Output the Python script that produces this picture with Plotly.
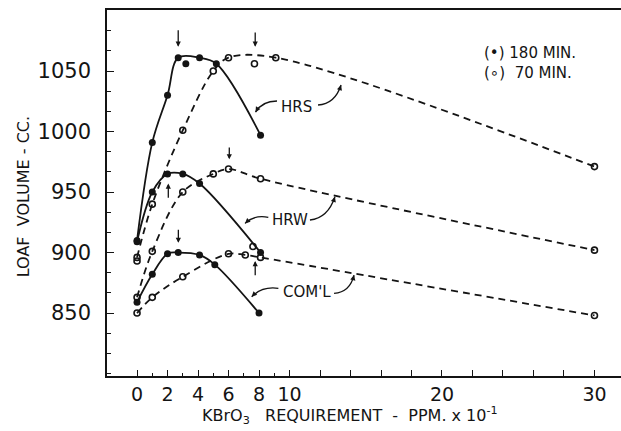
import plotly.graph_objects as go

# ---------------- data ----------------
hrs180_x = [0, 1, 2, 2.7, 4.1, 5.2, 8.1]
hrs180_y = [910, 991, 1030, 1061, 1061, 1056, 997]
hrs70_x = [0, 1, 3, 5, 6, 9.1, 30]
hrs70_y = [896, 940, 1001, 1050, 1061, 1061, 971]

hrw180_x = [0, 1, 2, 3, 4.1, 8.1]
hrw180_y = [909, 950, 965, 965, 957, 900]
hrw70_x = [0, 1, 3, 5, 6, 8.1, 30]
hrw70_y = [863, 901, 950, 965, 969, 961, 902]

coml180_x = [0, 1, 2, 2.7, 4.1, 5.1, 8]
coml180_y = [859, 882, 899, 900, 898, 890, 850]
coml70_x = [0, 1, 3, 6, 7.1, 8.1, 30]
coml70_y = [850, 863, 880, 899, 898, 896, 848]

# points plotted but lying off the drawn curves
extra180_x = [3.2]
extra180_y = [1056]
extra70_x = [0, 7.7, 7.6]
extra70_y = [893, 1056, 905]

# optimum arrows: x, head y, tail y
opt_x = [2.7, 7.75, 2.05, 6.05, 2.71, 7.75]
opt_head = [1070, 1070, 957, 977, 908, 893]
opt_tail = [1085, 1083, 944, 988, 920, 880]

# curve labels: text, x, y, (left arrow start, control, end), (right arrow start, control, end)
labels = ["HRS", "HRW", "COM'L"]
label_x = [10.47, 10.03, 11.13]
label_y = [1020.5, 926.9, 867.6]
left_curves = [
    ((9.18, 1025.2), (8.2, 1025.2), (7.77, 1016)),
    ((8.61, 929.1), (7.74, 931.6), (7.08, 924.1)),
    ((9.27, 870.4), (8.2, 872.3), (7.52, 863.5)),
]
right_curves = [
    ((11.87, 1021.9), (12.98, 1022.7), (13.38, 1038.4)),
    ((11.34, 926.9), (12.52, 928.5), (12.98, 946.1)),
    ((12.92, 866.3), (13.97, 867.4), (14.23, 881.4)),
]

x_major = list(range(0, 31, 2))
x_labels = {0: "0", 2: "2", 4: "4", 6: "6", 8: "8", 10: "10", 20: "20", 30: "30"}
x_minor = [1, 3, 5, 7, 9]
y_major = [850, 900, 950, 1000, 1050]

INK = "#141414"
FONT = "DejaVu Sans"

fig = go.Figure()

solid = dict(color=INK, width=1.8, shape="spline", smoothing=1.0)
dashed = dict(color=INK, width=1.8, shape="spline", smoothing=1.0, dash="7px,5px")
filled = dict(symbol="circle", size=7, color=INK)
opened = dict(symbol="circle-open", size=6, color=INK, line=dict(width=1.6, color=INK))

for xs, ys in [(hrs70_x, hrs70_y), (hrw70_x, hrw70_y), (coml70_x, coml70_y)]:
    fig.add_trace(go.Scatter(x=xs, y=ys, mode="lines+markers", line=dashed,
                             marker=opened, showlegend=False, hoverinfo="skip"))
for xs, ys in [(hrs180_x, hrs180_y), (hrw180_x, hrw180_y), (coml180_x, coml180_y)]:
    fig.add_trace(go.Scatter(x=xs, y=ys, mode="lines+markers", line=solid,
                             marker=filled, showlegend=False, hoverinfo="skip"))
fig.add_trace(go.Scatter(x=extra70_x, y=extra70_y, mode="markers", marker=opened,
                         showlegend=False, hoverinfo="skip"))
fig.add_trace(go.Scatter(x=extra180_x, y=extra180_y, mode="markers", marker=filled,
                         showlegend=False, hoverinfo="skip"))

annotations = []
# optimum arrows
for x, h, t in zip(opt_x, opt_head, opt_tail):
    annotations.append(dict(x=x, y=h, ax=x, ay=t, xref="x", yref="y", axref="x", ayref="y",
                            text="", showarrow=True, arrowhead=2, arrowsize=0.8,
                            arrowwidth=1.3, arrowcolor=INK))

shapes = []
for (lbl, lx, ly, lc, rc) in zip(labels, label_x, label_y, left_curves, right_curves):
    annotations.append(dict(x=lx, y=ly, xref="x", yref="y", text=lbl, showarrow=False,
                            font=dict(family=FONT, size=15, color=INK)))
    for (s, c, e) in (lc, rc):
        shapes.append(dict(type="path", xref="x", yref="y",
                           path=f"M {s[0]},{s[1]} Q {c[0]},{c[1]} {e[0]},{e[1]}",
                           line=dict(color=INK, width=1.3)))
        tx = e[0] + 0.25 * (c[0] - e[0])
        ty = e[1] + 0.25 * (c[1] - e[1])
        annotations.append(dict(x=e[0], y=e[1], ax=tx, ay=ty, xref="x", yref="y",
                                axref="x", ayref="y", text="", showarrow=True,
                                arrowhead=2, arrowsize=0.8, arrowwidth=1.3, arrowcolor=INK))

# legend text
annotations.append(dict(x=0.7296, y=0.882, xref="paper", yref="paper", xanchor="left",
                        yanchor="middle", text="(•) 180 MIN.", showarrow=False,
                        font=dict(family=FONT, size=15, color=INK)))
annotations.append(dict(x=0.7296, y=0.828, xref="paper", yref="paper", xanchor="left",
                        yanchor="middle", text="(∘)  70 MIN.", showarrow=False,
                        font=dict(family=FONT, size=15, color=INK)))
# axis titles
annotations.append(dict(x=0.4727, y=-0.107, xref="paper", yref="paper", xanchor="center",
                        yanchor="middle", showarrow=False,
                        text="KBrO<sub>3</sub>   REQUIREMENT  -  PPM. x 10<sup>-1</sup>",
                        font=dict(family=FONT, size=16, color=INK)))
annotations.append(dict(x=-0.163, y=0.489, xref="paper", yref="paper", xanchor="center",
                        yanchor="middle", showarrow=False, textangle=-90,
                        text="LOAF  VOLUME - CC.",
                        font=dict(family=FONT, size=16, color=INK)))

fig.update_layout(
    width=621, height=431,
    margin=dict(l=107, r=0, t=10, b=55),
    paper_bgcolor="white", plot_bgcolor="white",
    annotations=annotations, shapes=shapes,
    xaxis=dict(range=[-1.97, 31.74], showgrid=False, zeroline=False,
               showline=True, linecolor=INK, linewidth=1.6, mirror=True,
               tickmode="array", tickvals=x_major,
               ticktext=[x_labels.get(v, "") for v in x_major],
               ticks="inside", ticklen=6, tickwidth=1.3, tickcolor=INK,
               tickfont=dict(family=FONT, size=19, color=INK),
               minor=dict(tickvals=x_minor, ticks="inside", ticklen=3,
                          tickwidth=1.3, tickcolor=INK)),
    yaxis=dict(range=[798, 1100.4], showgrid=False, zeroline=False,
               showline=True, linecolor=INK, linewidth=1.6, mirror=False,
               tickmode="array", tickvals=y_major,
               ticks="inside", ticklen=7, tickwidth=1.3, tickcolor=INK,
               tickfont=dict(family=FONT, size=21, color=INK),
               ticklabelstandoff=10,
               minor=dict(dtick=50 / 3, tick0=850, ticks="inside", ticklen=4,
                          tickwidth=1.1, tickcolor=INK)),
)

fig.write_html("out.html")
